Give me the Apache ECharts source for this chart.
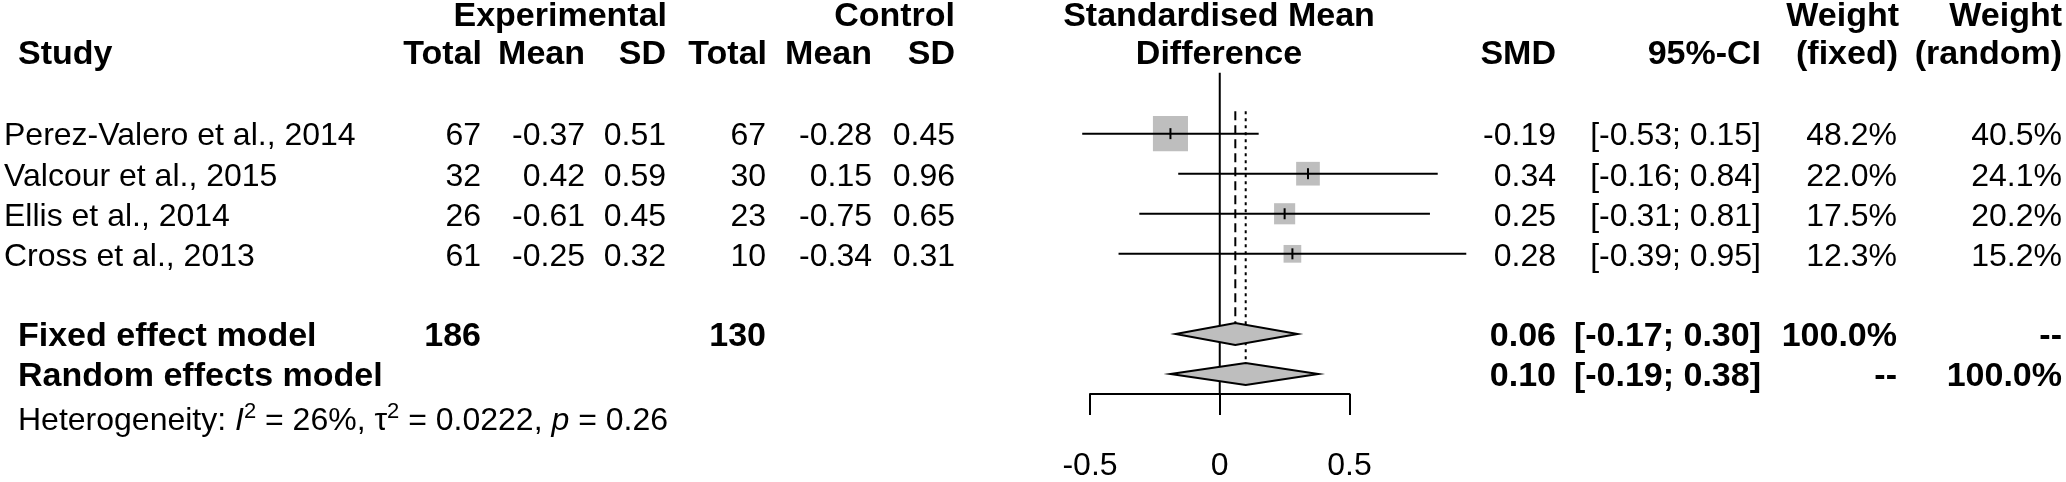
<!DOCTYPE html>
<html>
<head>
<meta charset="utf-8">
<script src="https://cdn.jsdelivr.net/npm/echarts@6/dist/echarts.min.js"></script>
<style>
html,body{margin:0;padding:0;background:#fff;}
#chart{width:2066px;height:482px;}
</style>
</head>
<body>
<div id="chart"></div>
<script>
// ---------- data ----------
const studies = ["Perez-Valero et al., 2014", "Valcour et al., 2015", "Ellis et al., 2014", "Cross et al., 2013"];
const expTotal = [67, 32, 26, 61];
const expMean = [-0.37, 0.42, -0.61, -0.25];
const expSD = [0.51, 0.59, 0.45, 0.32];
const ctrlTotal = [67, 30, 23, 10];
const ctrlMean = [-0.28, 0.15, -0.75, -0.34];
const ctrlSD = [0.45, 0.96, 0.65, 0.31];
const smd = [-0.19, 0.34, 0.25, 0.28];
const ciLower = [-0.53, -0.16, -0.31, -0.39];
const ciUpper = [0.15, 0.84, 0.81, 0.95];
const weightFixed = [48.2, 22.0, 17.5, 12.3];
const weightRandom = [40.5, 24.1, 20.2, 15.2];

const models = ["Fixed effect model", "Random effects model"];
const modelExpTotal = ["186", ""];
const modelCtrlTotal = ["130", ""];
const modelSMD = [0.06, 0.10];
const modelLower = [-0.17, -0.19];
const modelUpper = [0.30, 0.38];
const modelWeightFixed = ["100.0%", "--"];
const modelWeightRandom = ["--", "100.0%"];

const hetI2 = "26%";
const hetTau2 = "0.0222";
const hetP = "0.26";

const xTicks = [-0.5, 0, 0.5];
const xTickLabels = ["-0.5", "0", "0.5"];

// row positions (plot rows, top to bottom)
const studyRows = [1, 2, 3, 4];
const modelRows = [6, 7];
const hetRow = 8.1;

// ---------- layout / style ----------
const FONT = '"Liberation Sans", Arial, Helvetica, sans-serif';
const REG = 32, BOLD = 34;
const GRAY = '#bebebe';
const BOX_SCALE = 5.05;     // px per sqrt(weight %)
const DIAMOND_HALF = 11;
const TEXT_DY = 3;
const COL = {study: 4, model: 18, expTotal: 481, expMean: 585, expSD: 666,
  ctrlTotal: 766, ctrlMean: 872, ctrlSD: 955, smd: 1556, ci: 1761, wf: 1897, wr: 2062};

const fmt2 = v => v.toFixed(2);
const fmtCI = (a, b) => '[' + a.toFixed(2) + '; ' + b.toFixed(2) + ']';
const fmtW = v => v.toFixed(1) + '%';

function txt(x, y, text, align, bold) {
  return {type: 'text', x: x, y: y, silent: true,
    style: {text: text, fill: '#000', fontFamily: FONT, fontSize: bold ? BOLD : REG,
      fontWeight: bold ? 'bold' : 'normal', align: align, verticalAlign: 'middle'}};
}

// headers
const H1 = 17, H2 = 55;
const headers = [
  txt(667, H1, 'Experimental', 'right', true),
  txt(955, H1, 'Control', 'right', true),
  txt(1219, H1, 'Standardised Mean', 'center', true),
  txt(1899, H1, 'Weight', 'right', true),
  txt(2062, H1, 'Weight', 'right', true),
  txt(18, H2, 'Study', 'left', true),
  txt(482, H2, 'Total', 'right', true),
  txt(585, H2, 'Mean', 'right', true),
  txt(666, H2, 'SD', 'right', true),
  txt(767, H2, 'Total', 'right', true),
  txt(872, H2, 'Mean', 'right', true),
  txt(955, H2, 'SD', 'right', true),
  txt(1219, H2, 'Difference', 'center', true),
  txt(1556, H2, 'SMD', 'right', true),
  txt(1761, H2, '95%-CI', 'right', true),
  txt(1898, H2, '(fixed)', 'right', true),
  txt(2062, H2, '(random)', 'right', true)
];

// ---------- series data ----------
const studyData = studies.map((s, i) => [smd[i], studyRows[i], ciLower[i], ciUpper[i], weightFixed[i]]);
const diamondData = models.map((m, i) => [modelSMD[i], modelRows[i], modelLower[i], modelUpper[i]]);
// reference lines: [x, fromRow, toRow, kind]; kind 0 solid to axis, 1 dashed to diamond, 2 dotted to diamond
const refData = [
  [0, -0.52, 7.5, 0],
  [modelSMD[0], 0.44, modelRows[0], 1],
  [modelSMD[1], 0.44, modelRows[1], 2]
];
const tableRows = [];
studies.forEach((s, i) => tableRows.push({row: studyRows[i], cells: [
  [COL.study, s, 'left'], [COL.expTotal, String(expTotal[i]), 'right'],
  [COL.expMean, fmt2(expMean[i]), 'right'], [COL.expSD, fmt2(expSD[i]), 'right'],
  [COL.ctrlTotal, String(ctrlTotal[i]), 'right'], [COL.ctrlMean, fmt2(ctrlMean[i]), 'right'],
  [COL.ctrlSD, fmt2(ctrlSD[i]), 'right'], [COL.smd, fmt2(smd[i]), 'right'],
  [COL.ci, fmtCI(ciLower[i], ciUpper[i]), 'right'], [COL.wf, fmtW(weightFixed[i]), 'right'],
  [COL.wr, fmtW(weightRandom[i]), 'right']], bold: false}));
models.forEach((m, i) => tableRows.push({row: modelRows[i], cells: [
  [COL.model, m, 'left'], [COL.expTotal, modelExpTotal[i], 'right'],
  [COL.ctrlTotal, modelCtrlTotal[i], 'right'], [COL.smd, fmt2(modelSMD[i]), 'right'],
  [COL.ci, fmtCI(modelLower[i], modelUpper[i]), 'right'], [COL.wf, modelWeightFixed[i], 'right'],
  [COL.wr, modelWeightRandom[i], 'right']], bold: true}));

const chart = echarts.init(document.getElementById('chart'), null, {renderer: 'canvas'});
const option = {
  animation: false,
  backgroundColor: '#ffffff',
  grid: {left: 1090, right: 716.5, top: 93.6, bottom: 77.7, containLabel: false},
  xAxis: {
    type: 'value', min: -0.5, max: 0.5, interval: 0.5,
    axisLine: {show: true, onZero: false, lineStyle: {color: '#000', width: 2}},
    axisTick: {show: true, inside: false, length: 21, lineStyle: {color: '#000', width: 2}},
    axisLabel: {color: '#000', fontSize: REG, fontFamily: FONT, margin: 72, verticalAlign: 'middle',
      formatter: v => { const k = xTicks.findIndex(t => Math.abs(t - v) < 1e-9); return k >= 0 ? xTickLabels[k] : ''; }},
    splitLine: {show: false}
  },
  yAxis: {type: 'value', min: 0, max: 7.5, inverse: true, show: false},
  graphic: {elements: headers},
  series: [
    {
      type: 'custom', name: 'ref', clip: false, z: 1, data: refData, silent: true,
      renderItem: (params, api) => {
        const x = api.value(0), r0 = api.value(1), r1 = api.value(2), kind = api.value(3);
        const p0 = api.coord([x, r0]);
        const p1 = api.coord([x, r1]);
        const yEnd = kind === 0 ? p1[1] : p1[1] - DIAMOND_HALF;
        const dash = kind === 0 ? null : (kind === 1 ? [9, 5] : [3, 4]);
        return {type: 'line', shape: {x1: p0[0], y1: p0[1], x2: p1[0], y2: yEnd},
          style: {stroke: '#000', lineWidth: 2, lineDash: dash}};
      }
    },
    {
      type: 'custom', name: 'studies', clip: false, z: 2, data: studyData, silent: true,
      renderItem: (params, api) => {
        const est = api.value(0), row = api.value(1), lo = api.value(2), hi = api.value(3), w = api.value(4);
        const c = api.coord([est, row]);
        const l = api.coord([lo, row]);
        const h = api.coord([hi, row]);
        const s = BOX_SCALE * Math.sqrt(w);
        return {type: 'group', children: [
          {type: 'rect', shape: {x: c[0] - s / 2, y: c[1] - s / 2, width: s, height: s}, style: {fill: GRAY}},
          {type: 'line', shape: {x1: l[0], y1: l[1], x2: h[0], y2: h[1]}, style: {stroke: '#000', lineWidth: 2}},
          {type: 'line', shape: {x1: c[0], y1: c[1] - 5.5, x2: c[0], y2: c[1] + 5.5}, style: {stroke: '#000', lineWidth: 2}}
        ]};
      }
    },
    {
      type: 'custom', name: 'diamonds', clip: false, z: 3, data: diamondData, silent: true,
      renderItem: (params, api) => {
        const est = api.value(0), row = api.value(1), lo = api.value(2), hi = api.value(3);
        const c = api.coord([est, row]);
        const l = api.coord([lo, row]);
        const h = api.coord([hi, row]);
        return {type: 'polygon', shape: {points: [[l[0], c[1]], [c[0], c[1] - DIAMOND_HALF], [h[0], c[1]], [c[0], c[1] + DIAMOND_HALF]]},
          style: {fill: GRAY, stroke: '#000', lineWidth: 2}};
      }
    },
    {
      type: 'custom', name: 'table', clip: false, z: 4, silent: true,
      data: tableRows.map(t => [0, t.row]).concat([[0, hetRow]]),
      renderItem: (params, api) => {
        const i = params.dataIndex;
        const y = api.coord([0, api.value(1)])[1] + TEXT_DY;
        if (i < tableRows.length) {
          const t = tableRows[i];
          return {type: 'group', children: t.cells.filter(c => c[1] !== '').map(c => txt(c[0], y, c[1], c[2], t.bold))};
        }
        return {type: 'text', x: COL.model, y: y, silent: true, style: {
          text: '{r|Heterogeneity: }{i|I}{s|2}{r| = ' + hetI2 + ', τ}{s|2}{r| = ' + hetTau2 + ', }{i|p}{r| = ' + hetP + '}',
          fill: '#000', fontFamily: FONT, fontSize: REG, align: 'left', verticalAlign: 'middle',
          rich: {
            r: {fontFamily: FONT, fontSize: REG, fill: '#000', lineHeight: 40},
            i: {fontFamily: FONT, fontSize: REG, fontStyle: 'italic', fill: '#000', lineHeight: 40},
            s: {fontFamily: FONT, fontSize: 22, fill: '#000', verticalAlign: 'top', lineHeight: 22}
          }
        }};
      }
    }
  ]
};
chart.setOption(option);
</script>
</body>
</html>
